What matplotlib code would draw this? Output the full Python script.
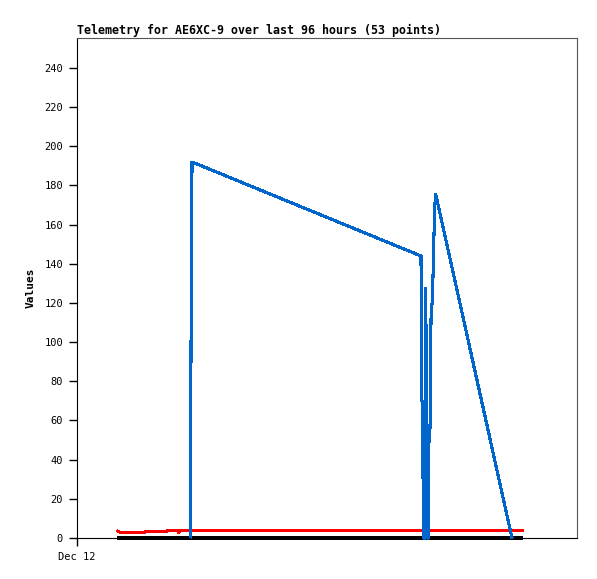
import matplotlib
matplotlib.use("Agg")
import matplotlib.pyplot as plt

# hours since Dec 12 00:00
blue_t = [26.83, 26.95, 27.19, 81.32, 81.49, 81.73, 81.87, 82.39, 82.44, 82.62,
          82.81, 83.10, 83.22, 83.45, 83.69, 84.04, 84.28, 84.52, 84.75, 102.84]
blue_v = [0, 97, 192, 144, 72, 65, 0, 0, 128, 65,
          0, 0, 56, 56, 112, 123, 145, 166, 176, 0]

red_t = [9.46, 10.4, 15.9, 16.1, 21.2, 21.4, 23.8, 24.0, 24.3, 105.44]
red_v = [3.7, 2.7, 2.7, 3.2, 3.2, 3.7, 3.7, 2.5, 3.7, 3.8]

black_t = [9.46, 105.44]
black_v = [0, 0]

yticks = list(range(0, 241, 20))
xtick_pos = [0]
xtick_lab = ["Dec 12"]

fig = plt.figure(figsize=(5.97, 5.79), dpi=100)
ax = fig.add_axes([77/597, 1 - 538/579, 500/597, 500/579])

style = dict(lw=1.5, antialiased=False, solid_joinstyle="bevel", solid_capstyle="butt")
ax.plot(black_t, black_v, color="black", zorder=2, clip_on=False, **style)
ax.plot(red_t, red_v, color="#ff0000", zorder=3, **style)
ax.plot(blue_t, blue_v, color="#0066cc", zorder=4, clip_on=False, **style)

ax.set_xlim(0, 118.2)
ax.set_ylim(0, 255.3)
ax.set_yticks(yticks)
ax.set_yticklabels([str(v) for v in yticks], family="DejaVu Sans Mono", fontsize=7.5)
ax.set_xticks(xtick_pos)
ax.set_xticklabels(xtick_lab, family="DejaVu Sans Mono", fontsize=7.5)
ax.tick_params(axis="both", direction="out", length=6, width=1, pad=4)

for s in ["top", "right"]:
    ax.spines[s].set_color("#555555")
for s in ["left", "bottom"]:
    ax.spines[s].set_color("black")

ax.set_ylabel("Values", family="DejaVu Sans Mono", fontweight="bold", fontsize=8, labelpad=6)
ax.set_title("Telemetry for AE6XC-9 over last 96 hours (53 points)", loc="left",
             family="DejaVu Sans Mono", fontweight="bold", fontsize=8.35, pad=3)

fig.savefig("out.png", dpi=100)
